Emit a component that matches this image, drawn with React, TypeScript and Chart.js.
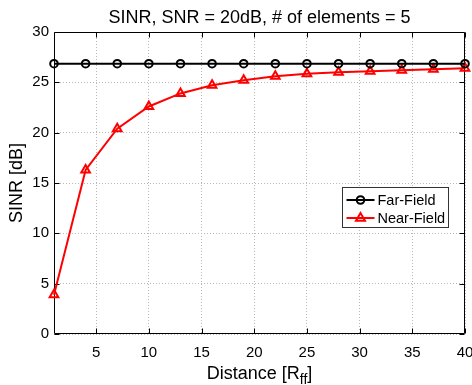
import React, { useEffect, useRef } from "react";
import { Chart, registerables } from "chart.js";

Chart.register(...registerables);

const distance = [1, 4, 7, 10, 13, 16, 19, 22, 25, 28, 31, 34, 37, 40];
const farField = [26.85, 26.85, 26.85, 26.85, 26.85, 26.85, 26.85, 26.85, 26.85, 26.85, 26.85, 26.85, 26.85, 26.85];
const nearField = [3.9, 16.3, 20.4, 22.6, 23.9, 24.7, 25.2, 25.6, 25.85, 26.0, 26.1, 26.2, 26.3, 26.4];
const xTicks = [5, 10, 15, 20, 25, 30, 35, 40];
const yTicks = [0, 5, 10, 15, 20, 25, 30];
const titleText = "SINR, SNR = 20dB, # of elements = 5";
const xLabelMain = "Distance [R";
const xLabelSub = "ff";
const yLabel = "SINR [dB]";
const seriesNames = ["Far-Field", "Near-Field"];

const FONT = "'Liberation Sans', Arial, sans-serif";

const decorPlugin = {
  id: "decor",
  beforeDatasetsDraw(chart: any) {
    const { ctx, chartArea: ca, scales } = chart;
    const xs = scales.x;
    const ys = scales.y;
    ctx.save();
    ctx.strokeStyle = "#000";
    ctx.lineWidth = 1;
    const L = Math.round(ca.left) + 0.5;
    const R = Math.round(ca.right) - 0.5;
    const T = Math.round(ca.top) + 0.5;
    const B = Math.round(ca.bottom) - 0.5;
    ctx.beginPath();
    ctx.rect(L, T, R - L, B - T);
    const tl = 5;
    xTicks.forEach((v) => {
      const px = Math.round(xs.getPixelForValue(v)) + 0.5;
      ctx.moveTo(px, B);
      ctx.lineTo(px, B - tl);
      ctx.moveTo(px, T);
      ctx.lineTo(px, T + tl);
    });
    yTicks.forEach((v) => {
      const py = Math.round(ys.getPixelForValue(v)) + 0.5;
      ctx.moveTo(L, py);
      ctx.lineTo(L + tl, py);
      ctx.moveTo(R, py);
      ctx.lineTo(R - tl, py);
    });
    ctx.stroke();
    ctx.restore();
  },
  afterDraw(chart: any) {
    const { ctx, chartArea: ca } = chart;
    ctx.save();
    ctx.fillStyle = "#000";
    // y label
    ctx.font = `18px ${FONT}`;
    ctx.textAlign = "center";
    ctx.textBaseline = "middle";
    ctx.save();
    ctx.translate(17, (ca.top + ca.bottom) / 2);
    ctx.rotate(-Math.PI / 2);
    ctx.fillText(yLabel, 0, 0);
    ctx.restore();
    // x label with subscript
    const mainFont = `18px ${FONT}`;
    const subFont = `14px ${FONT}`;
    ctx.font = mainFont;
    const w1 = ctx.measureText(xLabelMain).width;
    const w3 = ctx.measureText("]").width;
    ctx.font = subFont;
    const w2 = ctx.measureText(xLabelSub).width;
    const total = w1 + w2 + w3;
    const x0 = (ca.left + ca.right) / 2 - total / 2;
    const yb = 379;
    ctx.textAlign = "left";
    ctx.textBaseline = "alphabetic";
    ctx.font = mainFont;
    ctx.fillText(xLabelMain, x0, yb);
    ctx.font = subFont;
    ctx.fillText(xLabelSub, x0 + w1, yb + 5);
    ctx.font = mainFont;
    ctx.fillText("]", x0 + w1 + w2, yb);

    // legend
    const bx = Math.round(ca.right - 123) + 0.5;
    const by = Math.round(ca.top + 155) + 0.5;
    const bw = 106;
    const bh = 40;
    ctx.fillStyle = "#fff";
    ctx.fillRect(bx, by, bw, bh);
    ctx.strokeStyle = "#333";
    ctx.lineWidth = 1;
    ctx.strokeRect(bx, by, bw, bh);
    chart.data.datasets.forEach((ds: any, i: number) => {
      const cy = by + 12.5 + i * 18;
      const lx0 = bx + 4;
      const lx1 = bx + 32;
      ctx.strokeStyle = ds.borderColor;
      ctx.lineWidth = ds.borderWidth;
      ctx.beginPath();
      ctx.moveTo(lx0, cy);
      ctx.lineTo(lx1, cy);
      ctx.stroke();
      const mx = (lx0 + lx1) / 2;
      ctx.beginPath();
      if (ds.pointStyle === "triangle") {
        const r = ds.pointRadius;
        ctx.moveTo(mx, cy - r);
        ctx.lineTo(mx + r * 0.9, cy + r * 0.55);
        ctx.lineTo(mx - r * 0.9, cy + r * 0.55);
        ctx.closePath();
      } else {
        ctx.arc(mx, cy, ds.pointRadius, 0, Math.PI * 2);
      }
      ctx.strokeStyle = ds.pointBorderColor;
      ctx.lineWidth = ds.pointBorderWidth;
      ctx.stroke();
      ctx.fillStyle = "#000";
      ctx.font = `14.5px ${FONT}`;
      ctx.textAlign = "left";
      ctx.textBaseline = "middle";
      ctx.fillText(ds.label, bx + 35, cy + 0.5);
    });
    ctx.restore();
  },
};

export default function App() {
  const ref = useRef<HTMLCanvasElement | null>(null);
  useEffect(() => {
    if (!ref.current) return;
    const chart = new Chart(ref.current, {
      type: "line",
      data: {
        datasets: [
          {
            label: seriesNames[0],
            data: distance.map((d, i) => ({ x: d, y: farField[i] })),
            borderColor: "#000",
            borderWidth: 2,
            pointStyle: "circle",
            pointRadius: 3.8,
            pointBorderColor: "#000",
            pointBackgroundColor: "rgba(0,0,0,0)",
            pointBorderWidth: 2,
            clip: false,
          } as any,
          {
            label: seriesNames[1],
            data: distance.map((d, i) => ({ x: d, y: nearField[i] })),
            borderColor: "#ff0000",
            borderWidth: 2,
            pointStyle: "triangle",
            pointRadius: 5,
            pointBorderColor: "#ff0000",
            pointBackgroundColor: "rgba(0,0,0,0)",
            pointBorderWidth: 2,
            clip: false,
          } as any,
        ],
      },
      options: {
        responsive: false,
        animation: false,
        devicePixelRatio: 1,
        layout: { padding: { left: 0, right: 6, top: 0, bottom: 0 } },
        plugins: {
          legend: { display: false },
          tooltip: { enabled: false },
          title: {
            display: true,
            fullSize: false,
            text: titleText,
            color: "#000",
            font: { family: FONT, size: 18, weight: "normal" },
            padding: { top: 7, bottom: 3.4 },
          },
        },
        scales: {
          x: {
            type: "linear",
            min: 1,
            max: 40,
            afterBuildTicks: (s: any) => {
              s.ticks = xTicks.map((v) => ({ value: v }));
            },
            afterFit: (s: any) => {
              s.height = 51;
              s.paddingLeft = 0;
              s.paddingRight = 0;
            },
            grid: { color: "#b8b8b8", drawTicks: false, lineWidth: 1 },
            border: { display: false, dash: [1, 2] },
            ticks: {
              color: "#000",
              padding: 10,
              autoSkip: false,
              maxRotation: 0,
              font: { family: FONT, size: 15 },
            },
          },
          y: {
            type: "linear",
            min: 0,
            max: 30,
            afterBuildTicks: (s: any) => {
              s.ticks = yTicks.map((v) => ({ value: v }));
            },
            afterFit: (s: any) => {
              s.width = 54;
              s.paddingTop = 0;
              s.paddingBottom = 0;
            },
            grid: { color: "#b8b8b8", drawTicks: false, lineWidth: 1 },
            border: { display: false, dash: [1, 2] },
            ticks: {
              color: "#000",
              padding: 5,
              font: { family: FONT, size: 15 },
            },
          },
        },
      } as any,
      plugins: [decorPlugin],
    });
    return () => chart.destroy();
  }, []);
  return (
    <div style={{ position: "fixed", left: 0, top: 0, width: 472, height: 385, background: "#fff" }}>
      <canvas ref={ref} width={472} height={385} />
    </div>
  );
}
